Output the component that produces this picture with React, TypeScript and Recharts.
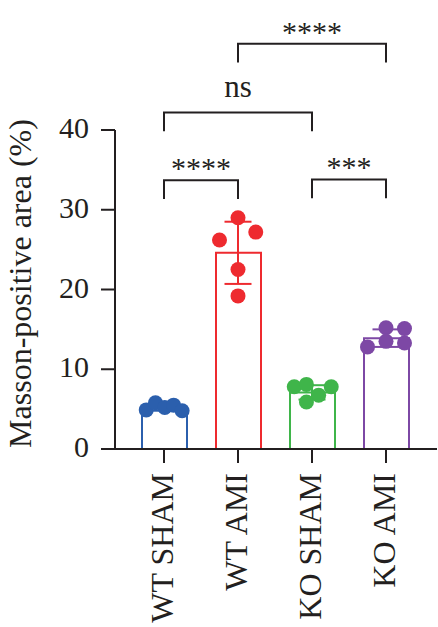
import React from 'react';
import {
  ComposedChart,
  Bar,
  Cell,
  XAxis,
  YAxis,
  Scatter,
  ErrorBar,
  ReferenceLine,
} from 'recharts';

// ---------- data ----------
const categories = ['WT SHAM', 'WT AMI', 'KO SHAM', 'KO AMI'];
const means = [5.2, 24.6, 7.1, 13.9];
const sds = [0.4, 3.9, 0.9, 1.1];
const colors = ['#2b5fad', '#ee2a2f', '#3fb54a', '#7d48a5'];

const wtShamValues = [4.9, 5.8, 5.2, 5.5, 4.8];
const wtAmiValues = [26.2, 29.0, 27.2, 22.5, 19.2];
const koShamValues = [7.8, 8.1, 7.8, 6.75, 5.9];
const koAmiValues = [12.8, 15.2, 15.1, 13.5, 13.3];

// horizontal jitter of points, in category units
const wtShamJitter = [-0.24, -0.115, 0.01, 0.13, 0.245];
const wtAmiJitter = [-0.25, 0, 0.24, 0, 0];
const koShamJitter = [-0.24, -0.075, 0.26, 0.09, -0.075];
const koAmiJitter = [-0.25, 0, 0.25, 0, 0.25];

const yTicks = [0, 10, 20, 30, 40];

// significance brackets: from/to category index, level (y value), label
const bracketFrom = [0, 2, 0, 1];
const bracketTo = [1, 3, 2, 3];
const bracketLevel = [33.7, 33.8, 42.2, 50.8];
const bracketLabels = ['****', '***', 'ns', '****'];

// ---------- styles ----------
const FONT = '"Liberation Serif", "Times New Roman", serif';
const INK = '#231f20';
const LEG = 2.35;

const groups = [wtShamValues, wtAmiValues, koShamValues, koAmiValues];
const jitters = [wtShamJitter, wtAmiJitter, koShamJitter, koAmiJitter];

const barData = categories.map((name, i) => ({ name, mean: means[i] }));
const summaryData = categories.map((_, i) => [{ x: i, y: means[i], err: sds[i] }]);
const pointData = groups.map((vals, i) => vals.map((v, j) => ({ x: i + jitters[i][j], y: v })));

const YTick = (props: any) => {
  const { x, y, payload } = props;
  return (
    <text x={x} y={y + 8} textAnchor="end" fontFamily={FONT} fontSize={30} fill={INK}>
      {payload.value}
    </text>
  );
};

const XTick = (props: any) => {
  const { x, y, payload } = props;
  return (
    <text
      transform={`translate(${x},${y}) rotate(-90)`}
      dy={9}
      textAnchor="end"
      fontFamily={FONT}
      fontSize={32}
      fill={INK}
    >
      {payload.value}
    </text>
  );
};

const YLabel = (props: any) => {
  const vb = props.viewBox || { x: 0, y: 130, width: 115, height: 319 };
  const cx = vb.x + 31;
  const cy = vb.y + vb.height / 2 - 6;
  return (
    <text
      transform={`translate(${cx},${cy}) rotate(-90)`}
      textAnchor="middle"
      fontFamily={FONT}
      fontSize={32}
      fill={INK}
    >
      Masson-positive area (%)
    </text>
  );
};

const makeBracketLabel = (text: string) => (props: any) => {
  const vb = props.viewBox;
  if (!vb) return null;
  const cx = vb.x + vb.width / 2;
  const isNs = text === 'ns';
  return (
    <text
      x={cx}
      y={vb.y - (isNs ? 15 : 2)}
      textAnchor="middle"
      fontFamily={FONT}
      fontSize={isNs ? 31 : 30}
      fill={INK}
    >
      {text}
    </text>
  );
};

const dotShape = (color: string) => (props: any) => (
  <circle cx={props.cx} cy={props.cy} r={7.5} fill={color} />
);

const emptyShape = () => <g />;

export default function App() {
  const axisPadding = { left: 12, right: 14 };
  return (
    <div style={{ position: 'absolute', left: 0, top: 0, width: 438, height: 627, background: '#fff' }}>
      <ComposedChart
        width={438}
        height={627}
        data={barData}
        margin={{ top: 130, right: 1, bottom: 0, left: 0 }}
      >
        <XAxis
          xAxisId="cat"
          dataKey="name"
          type="category"
          padding={axisPadding}
          height={178}
          tickSize={14}
          tickMargin={10}
          interval={0}
          axisLine={{ stroke: INK, strokeWidth: 2 }}
          tickLine={{ stroke: INK, strokeWidth: 2 }}
          tick={<XTick />}
        />
        <XAxis
          xAxisId="num"
          type="number"
          dataKey="x"
          domain={[-0.5, 3.5]}
          padding={axisPadding}
          hide
        />
        <YAxis
          type="number"
          domain={[0, 40]}
          ticks={yTicks}
          width={115}
          tickSize={14}
          tickMargin={12}
          interval={0}
          axisLine={{ stroke: INK, strokeWidth: 2 }}
          tickLine={{ stroke: INK, strokeWidth: 2 }}
          tick={<YTick />}
          label={<YLabel />}
        />
        <Bar xAxisId="cat" dataKey="mean" barSize={45} fill="#fff" strokeWidth={2} isAnimationActive={false}>
          {barData.map((_, i) => (
            <Cell key={i} fill="#ffffff" stroke={colors[i]} />
          ))}
        </Bar>
        {summaryData.map((d, i) => (
          <Scatter
            key={'sum' + i}
            xAxisId="num"
            data={d}
            dataKey="y"
            shape={emptyShape}
            isAnimationActive={false}
          >
            <ErrorBar dataKey="err" direction="y" width={13.5} stroke={colors[i]} strokeWidth={2} />
          </Scatter>
        ))}
        {pointData.map((d, i) => (
          <Scatter
            key={'pts' + i}
            xAxisId="num"
            data={d}
            dataKey="y"
            shape={dotShape(colors[i])}
            isAnimationActive={false}
          />
        ))}
        {bracketLevel.map((lvl, i) => (
          <ReferenceLine
            key={'bh' + i}
            xAxisId="num"
            ifOverflow="visible"
            segment={[
              { x: bracketFrom[i], y: lvl },
              { x: bracketTo[i], y: lvl },
            ]}
            stroke={INK}
            strokeWidth={2}
            strokeLinecap="square"
            label={makeBracketLabel(bracketLabels[i])}
          />
        ))}
        {bracketLevel.map((lvl, i) => (
          <ReferenceLine
            key={'bl' + i}
            xAxisId="num"
            ifOverflow="visible"
            segment={[
              { x: bracketFrom[i], y: lvl },
              { x: bracketFrom[i], y: lvl - LEG },
            ]}
            stroke={INK}
            strokeWidth={2}
          />
        ))}
        {bracketLevel.map((lvl, i) => (
          <ReferenceLine
            key={'br' + i}
            xAxisId="num"
            ifOverflow="visible"
            segment={[
              { x: bracketTo[i], y: lvl },
              { x: bracketTo[i], y: lvl - LEG },
            ]}
            stroke={INK}
            strokeWidth={2}
          />
        ))}
      </ComposedChart>
    </div>
  );
}
